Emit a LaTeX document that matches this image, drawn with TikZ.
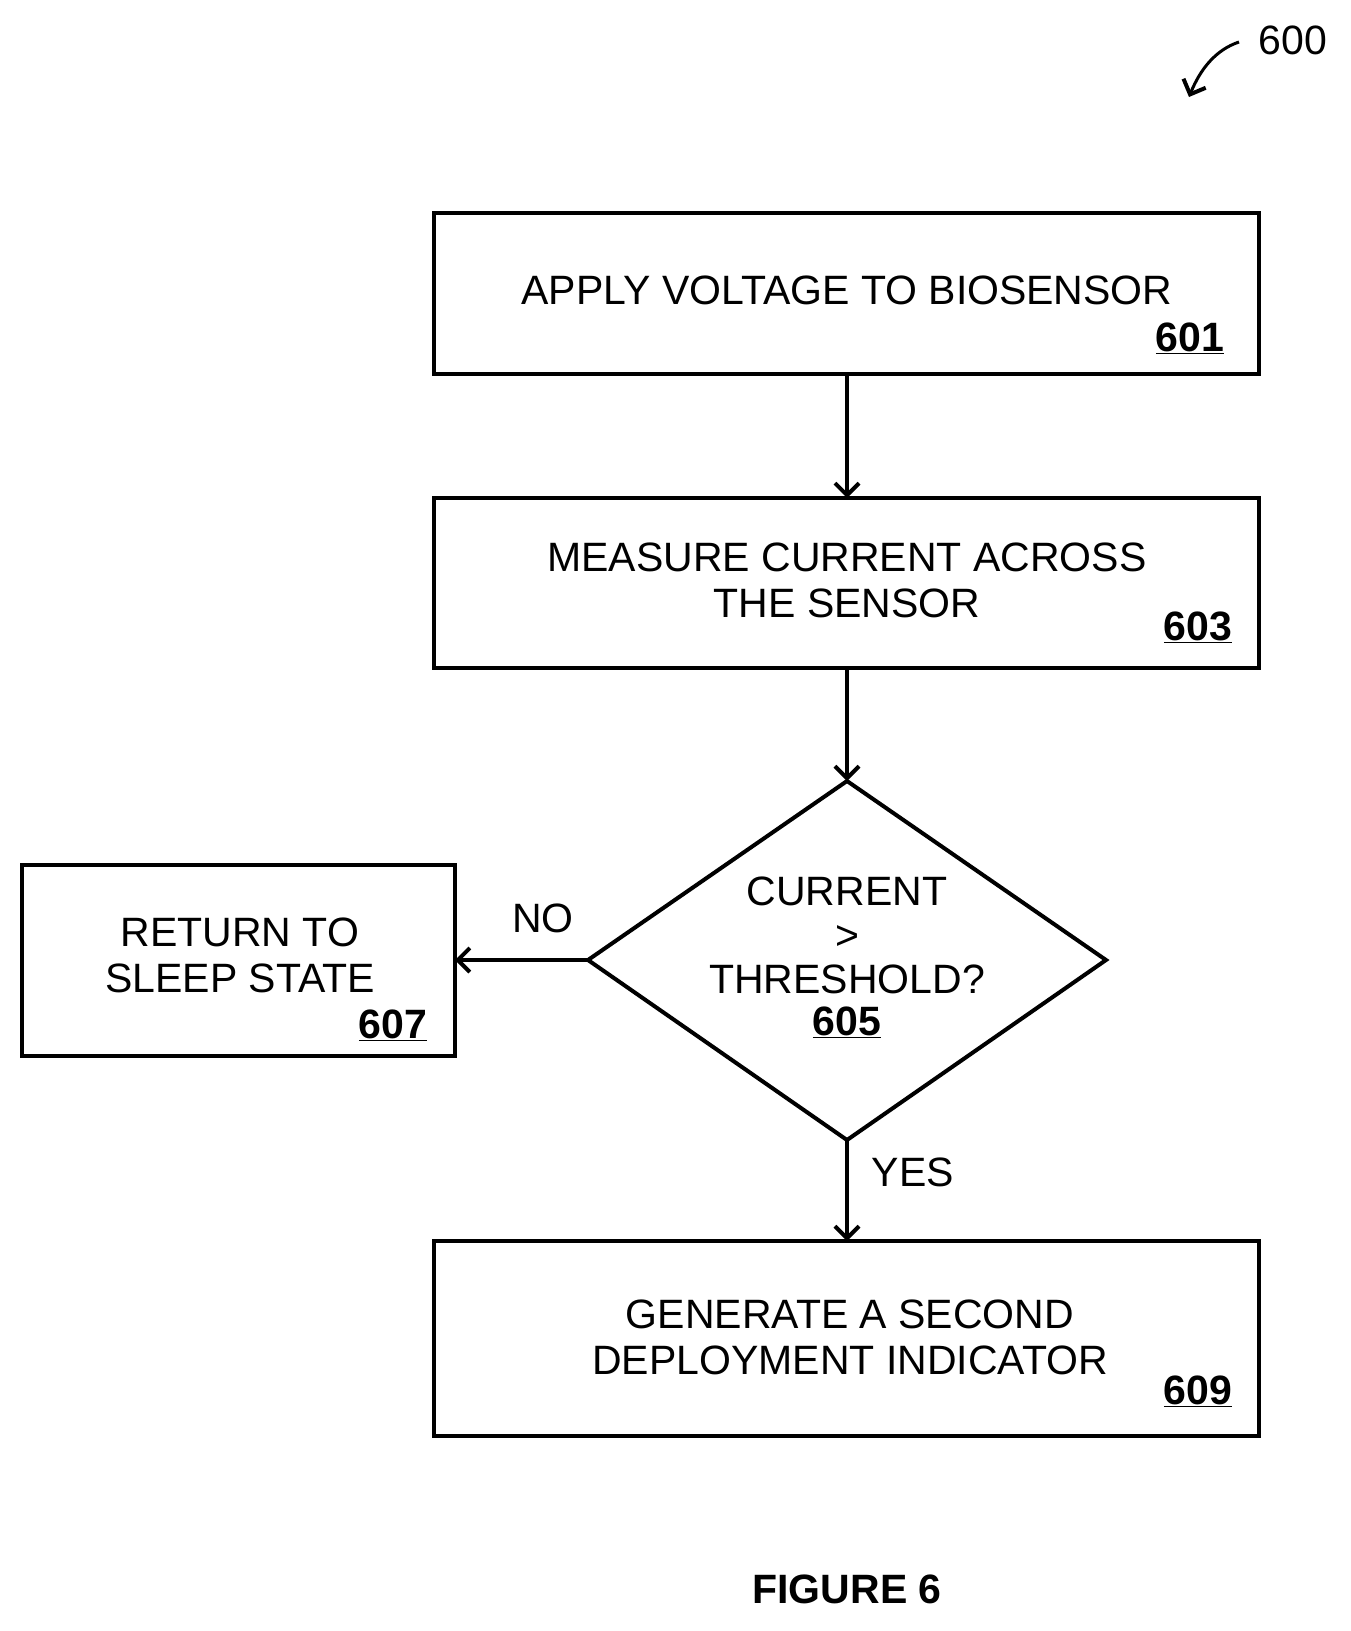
\documentclass[tikz,border=0pt]{standalone}
\usepackage{fontspec}
\setmainfont{Liberation Sans}
\usetikzlibrary{arrows.meta}
\begin{document}
\begin{tikzpicture}[x=1pt,y=-1pt,
  box/.style={draw,line width=4pt},
  t/.style={font=\fontsize{41}{46}\selectfont,align=center,inner sep=0},
  num/.style={font=\fontsize{41}{46}\selectfont\bfseries,inner sep=0},
  arr/.style={line width=4pt,-{Straight Barb[length=12pt,width=24pt,line width=4pt]}}]
\useasboundingbox (0,0) rectangle (1350,1631);
\draw[box] (434,213) rectangle (1259,374);
\node[t] (t601) at (847,290) {APPLY VOLTAGE TO BIOSENSOR};
\node[num] (n601) at (1190,338) {\underline{601}};
\draw[box] (434,498) rectangle (1259,668);
\node[t] (t603) at (847,580) {MEASURE CURRENT ACROSS\\THE SENSOR};
\node[num] (n603) at (1198,627) {\underline{603}};
\draw[box] (847,781) -- (1106,960) -- (847,1140) -- (588,960) -- cycle;
\node[t,font=\fontsize{41}{44}\selectfont] (t605) at (847,935) {CURRENT\\>\\THRESHOLD?};
\node[num] (n605) at (847,1022) {\underline{605}};
\draw[box] (22,865) rectangle (455,1056);
\node[t] (t607) at (240,955) {RETURN TO\\SLEEP STATE};
\node[num] (n607) at (393,1025) {\underline{607}};
\draw[box] (434,1241) rectangle (1259,1436);
\node[t] (t609) at (850,1337) {GENERATE A SECOND\\DEPLOYMENT INDICATOR};
\node[num] (n609) at (1198,1391) {\underline{609}};
\coordinate (a1) at (847,374); \coordinate (b1) at (847,498);
\coordinate (a2) at (847,668); \coordinate (b2) at (847,781);
\coordinate (a3) at (588,960); \coordinate (b3) at (455,960);
\coordinate (a4) at (847,1140); \coordinate (b4) at (847,1241);
\draw[arr] (a1) -- (b1);
\draw[arr] (a2) -- (b2);
\draw[arr] (a3) -- (b3);
\draw[arr] (a4) -- (b4);
\node[t] (no) at (543,918) {NO};
\node[t] (yes) at (913,1172) {YES};
\node[num] (fig) at (847,1589) {FIGURE 6};
\node[t] (l600) at (1293,40) {600};
\coordinate (c1) at (1239,42); \coordinate (c2) at (1189,97);
\draw[arr,line width=3pt] (c1) .. controls (1215,50) and (1200,70) .. (c2);
\end{tikzpicture}
\end{document}
